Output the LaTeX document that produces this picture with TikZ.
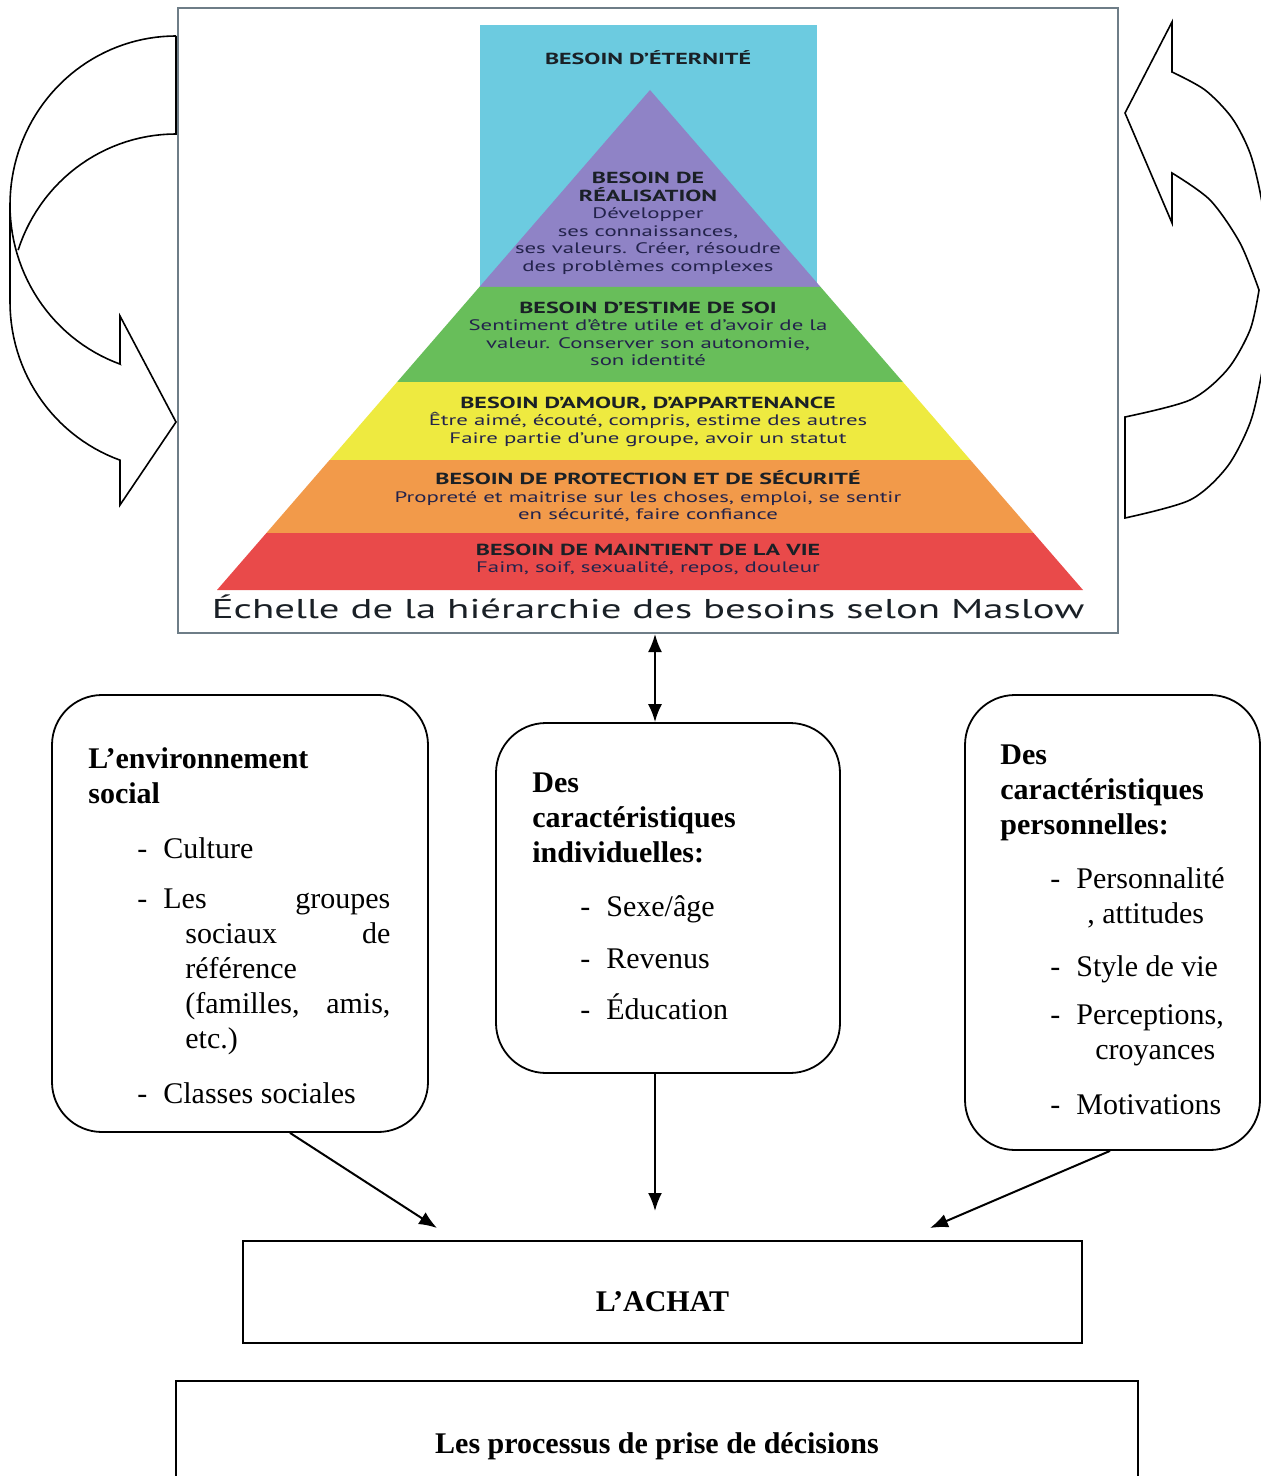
\documentclass[tikz,border=0pt]{standalone}
\usepackage{fontspec}
\setmainfont{Liberation Serif}
\newfontfamily\pyrfont[FakeStretch=1.5]{PT Sans}
\usetikzlibrary{positioning,arrows.meta}

\definecolor{skyblue}{RGB}{108,203,224}
\definecolor{lilac}{RGB}{143,131,198}
\definecolor{grassgreen}{RGB}{104,190,90}
\definecolor{lemon}{RGB}{238,234,64}
\definecolor{tangerine}{RGB}{242,154,74}
\definecolor{tomato}{RGB}{233,74,74}
\definecolor{framegray}{RGB}{110,125,135}
\definecolor{inkblue}{RGB}{35,35,75}
\definecolor{inkdark}{RGB}{26,32,38}

\newcommand{\puce}{\makebox[13pt][l]{-}}
\newcommand{\lvltitle}[1]{{\fontsize{8}{8.75}\selectfont\bfseries\color{inkdark}#1}}

\tikzset{
  roundbox/.style={draw, line width=0.9pt, rounded corners=25pt, inner sep=0pt},
  plainbox/.style={draw, line width=0.9pt, inner sep=0pt},
  boxtext/.style={anchor=north west, align=left, inner sep=0pt, font=\fontsize{15}{17.5}\selectfont},
  levelbox/.style={align=center, inner sep=0pt, text=inkblue, font=\pyrfont\fontsize{7.6}{8.75}\selectfont},
  bendarrow/.style={draw, line width=0.8pt, line join=miter},
  link/.style={line width=1pt, -{Latex[length=9pt,width=7pt]}},
  duallink/.style={line width=1pt, {Latex[length=9pt,width=7pt]}-{Latex[length=9pt,width=7pt]}},
}

\begin{document}
\begin{tikzpicture}[x=0.5pt, y=-0.5pt]
\useasboundingbox (0,0) rectangle (1261,1476);
\clip (0,0) rectangle (1261,1476);

% Maslow picture
\node[draw=framegray, line width=1pt, fill=white, inner sep=0pt,
      minimum width=470pt, minimum height=312.5pt] (maslow) at (648,320.5) {};
\fill[skyblue] (480,25) rectangle (817,287);
\fill[lilac] (650,90) -- (820.6,287) -- (479.4,287) -- cycle;
\fill[grassgreen] (479.4,287) -- (820.6,287) -- (902.9,382) -- (397.1,382) -- cycle;
\fill[lemon] (397.1,382) -- (902.9,382) -- (970.4,460) -- (329.6,460) -- cycle;
\fill[tangerine] (329.6,460) -- (970.4,460) -- (1033.6,533) -- (266.4,533) -- cycle;
\fill[tomato] (266.4,533) -- (1033.6,533) -- (1083,590) -- (217,590) -- cycle;

\node[levelbox] (eternite) at (648,58) {\lvltitle{BESOIN D’ÉTERNITÉ}};
\node[levelbox] (realisation) at (648,223.5) {\lvltitle{BESOIN DE}\\\lvltitle{RÉALISATION}\\Développer\\ses connaissances,\\ses valeurs. Créer, résoudre\\des problèmes complexes};
\node[levelbox] (estime) at (648,334) {\lvltitle{BESOIN D’ESTIME DE SOI}\\Sentiment d’être utile et d’avoir de la\\valeur. Conserver son autonomie,\\son identité};
\node[levelbox] (amour) at (648,421.5) {\lvltitle{BESOIN D’AMOUR, D’APPARTENANCE}\\Être aimé, écouté, compris, estime des autres\\Faire partie d’une groupe, avoir un statut};
\node[levelbox] (securite) at (648,496.5) {\lvltitle{BESOIN DE PROTECTION ET DE SÉCURITÉ}\\Propreté et maitrise sur les choses, emploi, se sentir\\en sécurité, faire confiance};
\node[levelbox] (survie) at (648,560) {\lvltitle{BESOIN DE MAINTIENT DE LA VIE}\\Faim, soif, sexualité, repos, douleur};
\node[inner sep=0pt, text=inkdark, font=\pyrfont\fontsize{13.6}{15}\selectfont] (legende) at (648,607) {Échelle de la hiérarchie des besoins selon Maslow};

% Curved arrow, left
\draw[bendarrow] plot[domain=90:180, samples=40] ({176+166*cos(\x)},{205-169*sin(\x)})
  -- (10,302) -- plot[domain=180:250.3, samples=30] ({176+166*cos(\x)},{302-168*sin(\x)})
  -- (120,505) -- (176,422) -- (120,316) -- (120,364)
  -- plot[domain=250.3:180, samples=30] ({176+166*cos(\x)},{205-169*sin(\x)});
\draw[bendarrow] (176,36) -- (176,134)
  -- plot[domain=90:162, samples=30] ({176+166*cos(\x)},{302-168*sin(\x)});

% Curved arrow, right
\draw[bendarrow] plot[smooth] coordinates {(1172,72) (1205,90) (1232,118) (1250,153) (1261,197) (1268,250) (1268,330) (1261,377) (1250,423) (1227,467) (1190,500) (1125,518)}
  -- (1125,417) -- plot[smooth] coordinates {(1125,417) (1190,400) (1227,370) (1250,330) (1259,290)}
  -- plot[smooth] coordinates {(1259,290) (1240,243) (1210,200) (1172,173)}
  -- (1172,223) -- (1125,113) -- (1172,22) -- cycle;

% Boxes
\node[roundbox, minimum width=188pt, minimum height=218.5pt] (envbox) at (240,913.5) {};
\node[roundbox, minimum width=172pt, minimum height=175pt] (indbox) at (668,898) {};
\node[roundbox, minimum width=147.5pt, minimum height=227.5pt] (persbox) at (1112.5,922.5) {};
\node[plainbox, minimum width=419.5pt, minimum height=51pt] (achat) at (662.5,1292) {};
\node[plainbox, minimum width=481pt, minimum height=62pt] (processus) at (657,1443) {};

\node[boxtext] (envtxt) at (88,747) {\textbf{L’environnement}\\
\textbf{social}\\[10pt]
\hspace*{24.5pt}\puce Culture\\[7.5pt]
\hspace*{24.5pt}\puce\makebox[113.5pt]{Les\hfill groupes}\\
\hspace*{48.5pt}\makebox[102.5pt]{sociaux\hfill de}\\
\hspace*{48.5pt}référence\\
\hspace*{48.5pt}\makebox[102.5pt]{(familles,\hfill amis,}\\
\hspace*{48.5pt}etc.)\\[10pt]
\hspace*{24.5pt}\puce Classes sociales};

\node[boxtext] (indtxt) at (532,772) {\textbf{Des}\\
\textbf{caractéristiques}\\
\textbf{individuelles:}\\[9.5pt]
\hspace*{24pt}\puce Sexe/âge\\[8.5pt]
\hspace*{24pt}\puce Revenus\\[8pt]
\hspace*{24pt}\puce Éducation};

\node[boxtext] (perstxt) at (1000,744) {\textbf{Des}\\
\textbf{caractéristiques}\\
\textbf{personnelles:}\\[9.5pt]
\hspace*{25pt}\puce Personnalité\\
\hspace*{43.5pt}, attitudes\\[9pt]
\hspace*{25pt}\puce Style de vie\\[6.5pt]
\hspace*{25pt}\puce Perceptions,\\
\hspace*{47.5pt}croyances\\[10pt]
\hspace*{25pt}\puce Motivations};

\node[font=\bfseries\fontsize{15}{17.5}\selectfont] (achatlbl) at ([yshift=-5pt]achat.center) {L’ACHAT};
\node[font=\bfseries\fontsize{15}{17.5}\selectfont] (processuslbl) at ([yshift=-1.5pt]processus.center) {Les processus de prise de décisions};

% Connectors
\coordinate (inL) at (437,1228);
\coordinate (inM) at (655,1211);
\coordinate (inR) at (930,1228);
\draw[duallink] ([xshift=3.5pt]maslow.south) -- ([xshift=-6.5pt]indbox.north);
\draw[link] ([xshift=25pt]envbox.south) -- (inL);
\draw[link] ([xshift=-6.5pt]indbox.south) -- (inM);
\draw[link] ([xshift=-1.25pt]persbox.south) -- (inR);
\end{tikzpicture}
\end{document}
